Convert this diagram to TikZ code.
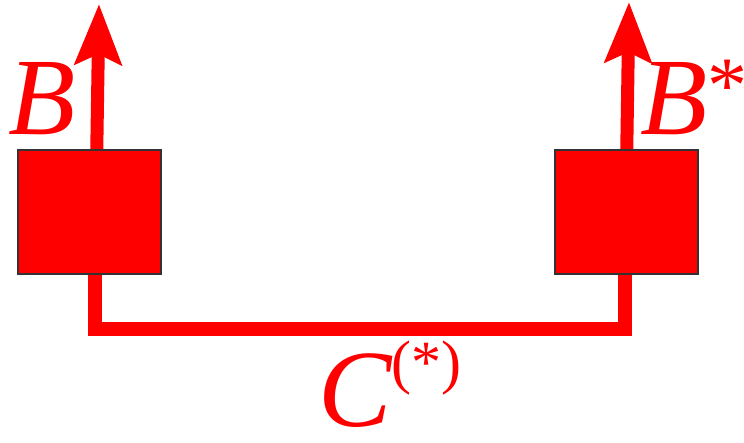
\documentclass[tikz,border=0pt]{standalone}
\usepackage{fontspec}
\setmainfont{Liberation Serif}
\usetikzlibrary{arrows.meta}

\begin{document}
\begin{tikzpicture}[x=1pt,y=-1pt,
    spin/.style={red,line width=13pt,-{Stealth[width=46pt,length=60pt,inset=10pt]}},
    link/.style={red,line width=14pt,line join=miter},
    block/.style={draw=black!80,line width=2pt,fill=red,minimum width=143pt,minimum height=124pt,inner sep=0pt},
    lbl/.style={red,inner sep=0pt,font=\fontsize{110}{110}\selectfont\itshape}]
  \useasboundingbox (0,0) rectangle (744,442);
  % feet of the link and tips of the arrows
  \coordinate (footL) at (95,270);
  \coordinate (footR) at (625,270);
  \coordinate (baseL) at (96,200);
  \coordinate (baseR) at (626,200);
  \coordinate (tipL) at (99,4);
  \coordinate (tipR) at (629,2);
  \draw[link] (footL) -- (95,329) -- (625,329) -- (footR);
  \draw[spin] (baseL) -- (tipL);
  \draw[spin] (baseR) -- (tipR);
  \node[block] (boxL) at (89.5,212) {};
  \node[block] (boxR) at (626,212) {};
  \node[lbl,anchor=base west] (labB) at (8,134) {B};
  \node[lbl,anchor=base west] (labBs) at (640,134)
    {B\raisebox{22pt}{\fontsize{80}{80}\selectfont\upshape *}};
  \node[lbl,anchor=base west] (labC) at (318,426)
    {C\raisebox{44pt}{\fontsize{60}{60}\selectfont\upshape (*)}};
\end{tikzpicture}
\end{document}
